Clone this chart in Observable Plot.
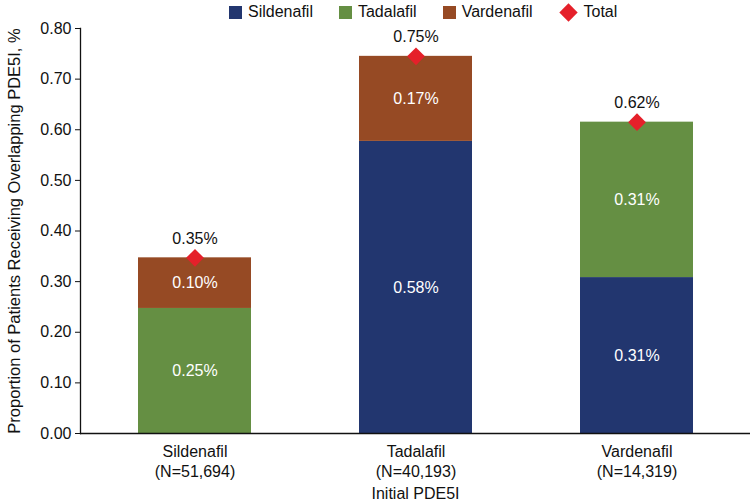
<!DOCTYPE html>
<html>
<head>
<meta charset="utf-8">
<script src="https://cdn.jsdelivr.net/npm/d3@7"></script>
<script src="https://cdn.jsdelivr.net/npm/@observablehq/plot@0.6"></script>
<style>
  body { margin: 0; background: #fff; font-family: "Liberation Sans", Arial, sans-serif; }
  #wrap { position: relative; width: 750px; height: 500px; }
  #legend { position: absolute; top: 3px; left: 229px; display: flex; align-items: center; font-size: 16px; color: #111; }
  .item { display: flex; align-items: center; margin-right: 26px; }
  .sw { width: 13px; height: 13px; margin-right: 6px; }
  .dia { width: 13px; height: 13px; margin: 0 9px 0 3px; transform: rotate(45deg); }
</style>
</head>
<body>
<div id="wrap"><div id="legend"></div></div>
<script>
const categories = ["Sildenafil", "Tadalafil", "Vardenafil"];
const categoryN = ["(N=51,694)", "(N=40,193)", "(N=14,319)"];
const series = ["Sildenafil", "Tadalafil", "Vardenafil"];
const colors = ["#22366F", "#658F43", "#964A24"];
const totalColor = "#E5202A";
// values per initial PDE5I category, per overlapping series
const sildenafilValues = [0,     0.577, 0.308];
const tadalafilValues  = [0.247, 0,     0.307];
const vardenafilValues = [0.100, 0.168, 0];
const segmentLabels = [
  ["", "0.58%", "0.31%"],
  ["0.25%", "", "0.31%"],
  ["0.10%", "0.17%", ""]
];
const totalValues = [0.347, 0.745, 0.615];
const totalLabels = ["0.35%", "0.75%", "0.62%"];
const yTicks = [0, 0.1, 0.2, 0.3, 0.4, 0.5, 0.6, 0.7, 0.8];
const yLabel = "Proportion of Patients Receiving Overlapping PDE5I, %";
const xLabel = "Initial PDE5I";

const seriesValues = [sildenafilValues, tadalafilValues, vardenafilValues];
const rows = [];
series.forEach((s, si) => categories.forEach((c, ci) => {
  if (seriesValues[si][ci] > 0) rows.push({cat: c, series: s, value: seriesValues[si][ci], label: segmentLabels[si][ci]});
}));
const totals = categories.map((c, i) => ({cat: c, value: totalValues[i], label: totalLabels[i]}));

const font = "'Liberation Sans', Arial, sans-serif";
const plot = Plot.plot({
  width: 750,
  height: 500,
  marginTop: 28,
  marginBottom: 67,
  marginLeft: 80,
  marginRight: 0,
  style: {fontFamily: font, fontSize: "16px", color: "#111", background: "transparent"},
  x: {domain: categories, paddingInner: 0.49, paddingOuter: 0.26, axis: null},
  y: {domain: [0, 0.8], axis: null},
  color: {domain: series, range: colors},
  marks: [
    Plot.barY(rows, {x: "cat", y: "value", fill: "series", order: series}),
    Plot.text(rows, Plot.stackY({x: "cat", y: "value", z: "series", order: series, text: "label", fill: "white", fontSize: 16})),
    Plot.ruleY([0], {stroke: "#111", strokeWidth: 1.3}),
    Plot.frame({anchor: "left", stroke: "#111", strokeWidth: 1.3}),
    Plot.axisY({ticks: yTicks, tickFormat: d3.format(".2f"), tickSize: 5, tickPadding: 4, fontSize: 16, label: null}),
    Plot.text([yLabel], {frameAnchor: "left", textAnchor: "middle", rotate: -90, dx: -66, fontSize: 16.5, fill: "#111"}),
    Plot.axisX({tickSize: 0, tickPadding: 9, fontSize: 16, lineHeight: 1.25,
      tickFormat: (d) => d + "\n" + categoryN[categories.indexOf(d)], label: null}),
    Plot.text([xLabel], {frameAnchor: "bottom", lineAnchor: "bottom", dy: 65, fontSize: 16, fill: "#111"}),
    Plot.dot(totals, {x: "cat", y: "value", symbol: "diamond2", r: 8, fill: totalColor, stroke: "none"}),
    Plot.text(totals, {x: "cat", y: "value", text: "label", dy: -19, fill: "#111", fontSize: 16})
  ]
});
document.getElementById("wrap").appendChild(plot);

const legend = document.getElementById("legend");
series.forEach((s, i) => {
  const it = document.createElement("div");
  it.className = "item";
  it.innerHTML = `<div class="sw" style="background:${colors[i]}"></div><span>${s}</span>`;
  legend.appendChild(it);
});
const tot = document.createElement("div");
tot.className = "item";
tot.innerHTML = `<div class="dia" style="background:${totalColor}"></div><span>Total</span>`;
legend.appendChild(tot);
</script>
</body>
</html>
